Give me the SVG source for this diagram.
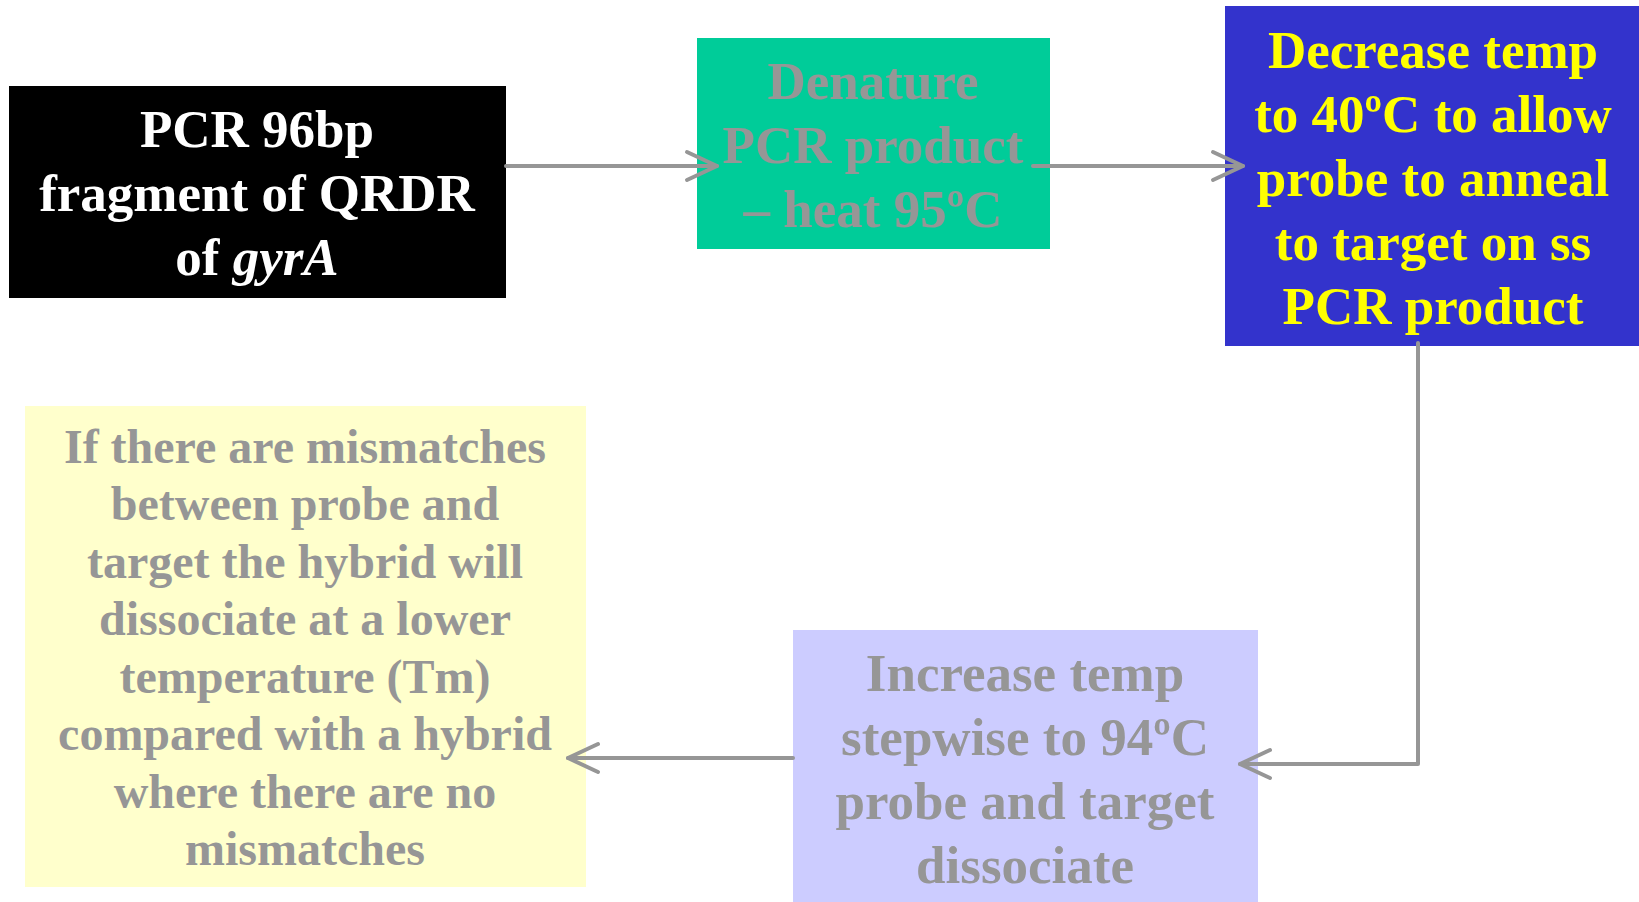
<svg xmlns="http://www.w3.org/2000/svg" width="1639" height="902" viewBox="0 0 1639 902">
  <style>
    .t { font-family: "Liberation Serif", "Times New Roman", serif; font-weight: bold; text-anchor: middle; }
    .big { font-size: 53px; }
    .small { font-size: 48px; }
    .w { fill: #FFFFFF; }
    .g { fill: #969696; }
    .y { fill: #FFFF00; }
    .conn { fill: none; stroke: #969696; stroke-width: 4; stroke-linecap: round; stroke-linejoin: round; }
  </style>
  <defs>
    <marker id="arr" markerUnits="userSpaceOnUse" markerWidth="44" markerHeight="40" viewBox="-36 -20 44 40" refX="0" refY="0" orient="auto" overflow="visible">
      <path d="M-30,-14 L0,0 L-30,14" fill="none" stroke="#969696" stroke-width="4" stroke-linecap="round" stroke-linejoin="round"/>
    </marker>
  </defs>
  <rect width="1639" height="902" fill="#FFFFFF"/>

  <g id="node-pcr">
    <rect x="9" y="86" width="497" height="212" fill="#000000"/>
    <text class="t big w" x="257" y="147">PCR 96bp</text>
    <text class="t big w" x="257" y="211">fragment of QRDR</text>
    <text class="t big w" x="257" y="275">of <tspan font-style="italic">gyrA</tspan></text>
  </g>

  <g id="node-denature">
    <rect x="697" y="38" width="353" height="211" fill="#00CC99"/>
    <text class="t big g" x="873" y="99">Denature</text>
    <text class="t big g" x="873" y="163">PCR product</text>
    <text class="t big g" x="873" y="227">– heat 95ºC</text>
  </g>

  <g id="node-decrease">
    <rect x="1225" y="6" width="414" height="340" fill="#3333CC"/>
    <text class="t big y" x="1433" y="68">Decrease temp</text>
    <text class="t big y" x="1433" y="132">to 40ºC to allow</text>
    <text class="t big y" x="1433" y="196">probe to anneal</text>
    <text class="t big y" x="1433" y="260">to target on ss</text>
    <text class="t big y" x="1433" y="324">PCR product</text>
  </g>

  <g id="node-increase">
    <rect x="793" y="630" width="465" height="272" fill="#CCCCFF"/>
    <text class="t big g" x="1025" y="691">Increase temp</text>
    <text class="t big g" x="1025" y="755">stepwise to 94ºC</text>
    <text class="t big g" x="1025" y="819">probe and target</text>
    <text class="t big g" x="1025" y="883">dissociate</text>
  </g>

  <g id="node-mismatch">
    <rect x="25" y="406" width="561" height="481" fill="#FFFFCC"/>
    <text class="t small g" x="305" y="463">If there are mismatches</text>
    <text class="t small g" x="305" y="520">between probe and</text>
    <text class="t small g" x="305" y="578">target the hybrid will</text>
    <text class="t small g" x="305" y="635">dissociate at a lower</text>
    <text class="t small g" x="305" y="693">temperature (Tm)</text>
    <text class="t small g" x="305" y="750">compared with a hybrid</text>
    <text class="t small g" x="305" y="808">where there are no</text>
    <text class="t small g" x="305" y="865">mismatches</text>
  </g>

  <g id="connectors">
    <path class="conn" d="M506,166 L717,166" marker-end="url(#arr)"/>
    <path class="conn" d="M1033,166 L1243,166" marker-end="url(#arr)"/>
    <path class="conn" d="M1418,343 L1418,764 L1240,764" marker-end="url(#arr)"/>
    <path class="conn" d="M793,758 L568,758" marker-end="url(#arr)"/>
  </g>
</svg>
